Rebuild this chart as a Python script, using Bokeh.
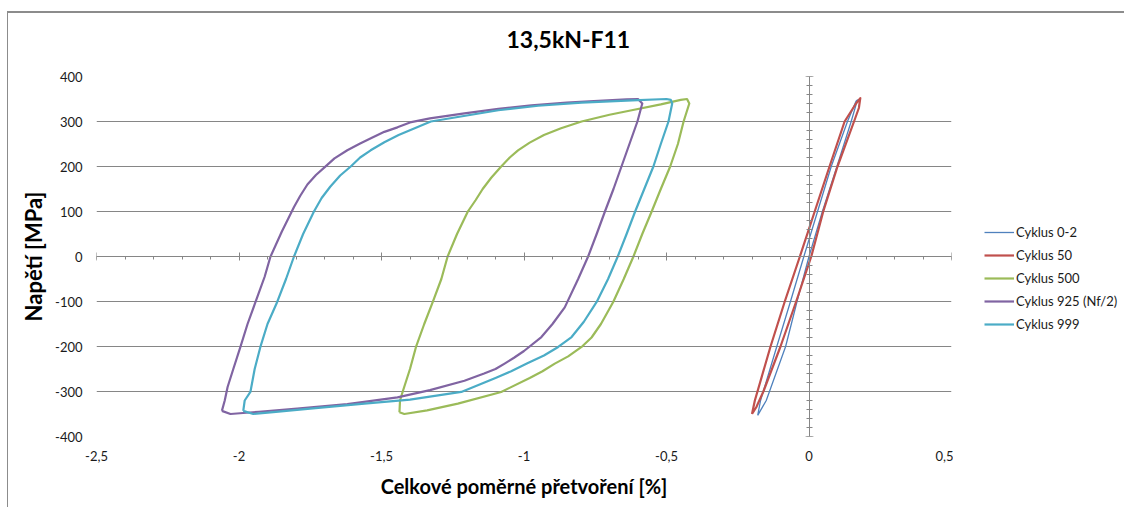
from bokeh.plotting import figure
from bokeh.layouts import row
from bokeh.models import Range1d, LinearAxis, FixedTicker, Legend, LegendItem, Title
from bokeh.embed import file_html
from bokeh.resources import INLINE

FONT = "Lato"

title_text = "13,5kN-F11"
x_label = "Celkové poměrné přetvoření [%]"
y_label = "Napětí [MPa]"

x_ticks = [-2.5, -2.0, -1.5, -1.0, -0.5, 0.0, 0.5]
x_tick_labels = ["-2,5", "-2", "-1,5", "-1", "-0,5", "0", "0,5"]
x_minor_ticks = [round(-2.5 + 0.1 * i, 2) for i in range(31)]
y_ticks = [-400, -300, -200, -100, 0, 100, 200, 300, 400]
y_tick_labels = ["-400", "-300", "-200", "-100", "0", "100", "200", "300", "400"]
y_minor_ticks = [-400 + 20 * i for i in range(41)]

series_names = ["Cyklus 0-2", "Cyklus 50", "Cyklus 500", "Cyklus 925 (Nf/2)", "Cyklus 999"]
series_colors = ["#4F81BD", "#C0504D", "#9BBB59", "#8064A2", "#4BACC6"]
series_widths = [1.3, 2.2, 2.2, 2.2, 2.2]

# Cyklus 0-2
c02_x = [-0.18, -0.17, -0.113, -0.065, -0.018, 0.03, 0.078, 0.135, 0.165, 0.17,
         0.148, 0.098, 0.047, 0.0, -0.042, -0.082, -0.15, -0.18]
c02_y = [-353, -320, -200, -100, 0, 100, 200, 300, 345, 348,
         300, 200, 100, 0, -100, -200, -320, -353]

# Cyklus 50
c50_x = [-0.20, -0.19, -0.135, -0.085, -0.032, 0.02, 0.072, 0.125, 0.165, 0.18,
         0.175, 0.158, 0.10, 0.05, 0.008, -0.045, -0.10, -0.16, -0.185, -0.20]
c50_y = [-350, -320, -200, -100, 0, 100, 200, 300, 340, 352,
         330, 300, 200, 100, 0, -100, -200, -300, -335, -350]

# Cyklus 500
c500_x = [-1.437, -1.435, -1.426, -1.40, -1.379, -1.35, -1.32, -1.29, -1.268, -1.235,
          -1.197, -1.17, -1.145, -1.115, -1.08, -1.05, -1.021, -0.98, -0.93, -0.87,
          -0.798, -0.70, -0.622, -0.52, -0.45, -0.428, -0.42, -0.44, -0.46, -0.487,
          -0.52, -0.552, -0.585, -0.616, -0.65, -0.687, -0.73, -0.763, -0.798, -0.845,
          -0.892, -0.935, -0.98, -1.08, -1.232, -1.34, -1.42, -1.437]
c500_y = [-346, -320, -301, -250, -201, -150, -101, -50, 0, 50,
          100, 125, 150, 175, 200, 220, 236, 253, 270, 285,
          300, 315, 325, 338, 348, 350, 340, 300, 250, 200,
          150, 100, 50, 0, -50, -101, -150, -180, -201, -222,
          -238, -255, -270, -301, -327, -342, -350, -346]

# Cyklus 925 (Nf/2)
c925_x = [-2.06, -2.05, -2.04, -2.02, -1.995, -1.97, -1.942, -1.91, -1.89, -1.85,
          -1.807, -1.785, -1.76, -1.73, -1.70, -1.665, -1.62, -1.575, -1.53, -1.49,
          -1.444, -1.40, -1.33, -1.209, -1.09, -0.974, -0.85, -0.739, -0.64, -0.60,
          -0.585, -0.602, -0.63, -0.658, -0.686, -0.716, -0.745, -0.775, -0.81, -0.857,
          -0.90, -0.939, -1.00, -1.035, -1.068, -1.10, -1.14, -1.209, -1.33, -1.444,
          -1.62, -1.796, -1.93, -2.03, -2.06]
c925_y = [-343, -320, -290, -250, -201, -150, -101, -45, -1, 55,
          110, 135, 160, 181, 198, 218, 236, 251, 265, 277,
          287, 298, 307, 318, 328, 336, 342, 346, 349, 350,
          340, 300, 250, 200, 150, 100, 50, 0, -50, -113,
          -150, -179, -210, -225, -238, -250, -260, -276, -297, -313,
          -328, -338, -345, -350, -343]

# Cyklus 999
c999_x = [-1.985, -1.98, -1.96, -1.945, -1.925, -1.90, -1.866, -1.835, -1.807, -1.775,
          -1.737, -1.71, -1.68, -1.645, -1.608, -1.575, -1.538, -1.49, -1.44, -1.327,
          -1.09, -0.95, -0.798, -0.62, -0.50, -0.485, -0.48, -0.493, -0.52, -0.546,
          -0.578, -0.61, -0.64, -0.671, -0.705, -0.745, -0.79, -0.833, -0.88, -0.93,
          -0.99, -1.045, -1.10, -1.22, -1.40, -1.56, -1.75, -1.88, -1.95, -1.985]
c999_y = [-343, -320, -301, -250, -201, -150, -101, -50, 0, 50,
          100, 130, 155, 180, 200, 220, 236, 254, 270, 300,
          325, 335, 342, 347, 350, 348, 340, 300, 250, 200,
          150, 100, 50, 0, -50, -101, -145, -179, -201, -220,
          -238, -255, -270, -301, -318, -327, -338, -346, -350, -343]

series_x = [c02_x, c50_x, c500_x, c925_x, c999_x]
series_y = [c02_y, c50_y, c500_y, c925_y, c999_y]

FRAME_W = 855
FRAME_H = 360
LEFT = 96
TOP = 76
W = 953
H = 507
LEG_W = 171

p = figure(width=W, height=H, output_backend="svg", toolbar_location=None,
           x_range=Range1d(-2.5, 0.5), y_range=Range1d(-400, 400),
           min_border_left=LEFT, min_border_top=TOP,
           min_border_right=W - LEFT - FRAME_W, min_border_bottom=H - TOP - FRAME_H)
p.outline_line_color = None
p.background_fill_color = "white"
p.border_fill_color = None

# label axes (at the frame edges)
for ax in (p.xaxis[0], p.yaxis[0]):
    ax.axis_line_color = None
    ax.major_tick_line_color = None
    ax.minor_tick_line_color = None
    ax.major_tick_in = 0
    ax.major_tick_out = 0
    ax.minor_tick_in = 0
    ax.minor_tick_out = 0
    ax.major_label_text_font = FONT
    ax.major_label_text_font_size = "13px"
    ax.major_label_text_color = "#1a1a1a"
    ax.axis_label_text_font = FONT
    ax.axis_label_text_font_style = "bold"
    ax.axis_label_text_font_size = "20px"
    ax.axis_label_text_color = "#000000"

p.xaxis[0].ticker = FixedTicker(ticks=x_ticks)
p.xaxis[0].major_label_overrides = dict(zip(x_ticks, x_tick_labels))
p.xaxis[0].major_label_standoff = 14
p.xaxis[0].axis_label = x_label
p.xaxis[0].axis_label_standoff = 10

p.yaxis[0].ticker = FixedTicker(ticks=y_ticks)
p.yaxis[0].major_label_overrides = dict(zip(y_ticks, y_tick_labels))
p.yaxis[0].major_label_standoff = 14
p.yaxis[0].axis_label = y_label
p.yaxis[0].axis_label_text_font_size = "22px"
p.yaxis[0].axis_label_standoff = 5

# crossing axes through zero
def zero_axis(ticks, minor, tick_in, tick_out, minor_in, minor_out):
    a = LinearAxis(fixed_location=0, ticker=FixedTicker(ticks=ticks, minor_ticks=minor))
    a.major_label_text_font_size = "1px"
    a.major_label_text_color = None
    a.major_label_standoff = 0
    a.axis_line_color = "#868686"
    a.major_tick_line_color = "#868686"
    a.minor_tick_line_color = "#868686"
    a.major_tick_in = tick_in
    a.major_tick_out = tick_out
    a.minor_tick_in = minor_in
    a.minor_tick_out = minor_out
    return a

p.add_layout(zero_axis(x_ticks, x_minor_ticks, 4, 4, 0, 3), "below")
p.add_layout(zero_axis(y_ticks, y_minor_ticks, 4, 4, 3, 3), "left")

p.xgrid.visible = False
p.ygrid.ticker = FixedTicker(ticks=y_ticks)
p.ygrid.grid_line_color = "#868686"
p.ygrid.grid_line_width = 1

for color, lw, xs, ys in zip(series_colors, series_widths, series_x, series_y):
    p.line(xs, ys, line_color=color, line_width=lw, line_join="round")

title = Title(text=title_text, align="left", offset=410, vertical_align="top", standoff=44,
              text_font=FONT, text_font_style="bold", text_font_size="23px", text_color="#000000")
p.add_layout(title, "above")

# legend panel to the right of the chart (its own ranges keep the copies out of view)
pl = figure(width=LEG_W, height=H, output_backend="svg", toolbar_location=None,
            x_axis_type=None, y_axis_type=None, x_range=Range1d(5, 6), y_range=Range1d(5, 6),
            min_border=0)
pl.outline_line_color = None
pl.background_fill_color = None
pl.border_fill_color = None
items = []
for name, color, lw, xs, ys in zip(series_names, series_colors, series_widths, series_x, series_y):
    r = pl.line(xs, ys, line_color=color, line_width=lw)
    items.append(LegendItem(label=name, renderers=[r]))

legend = Legend(items=items, location=(31, 102), padding=0, margin=0, spacing=3,
                glyph_width=30, glyph_height=20, label_height=20, label_standoff=2,
                label_text_font=FONT, label_text_font_size="13px", label_text_color="#1a1a1a",
                background_fill_alpha=0, border_line_color=None)
pl.add_layout(legend, "center")

layout = row(p, pl)
layout.styles = {
    "background": "linear-gradient(#8c8c8c, #8c8c8c) 8px 11px / 1120px 2px no-repeat, "
                  "linear-gradient(#8c8c8c, #8c8c8c) 7px 11px / 1px 500px no-repeat, #ffffff"
}
open("out.html", "w").write(file_html(layout, INLINE))
